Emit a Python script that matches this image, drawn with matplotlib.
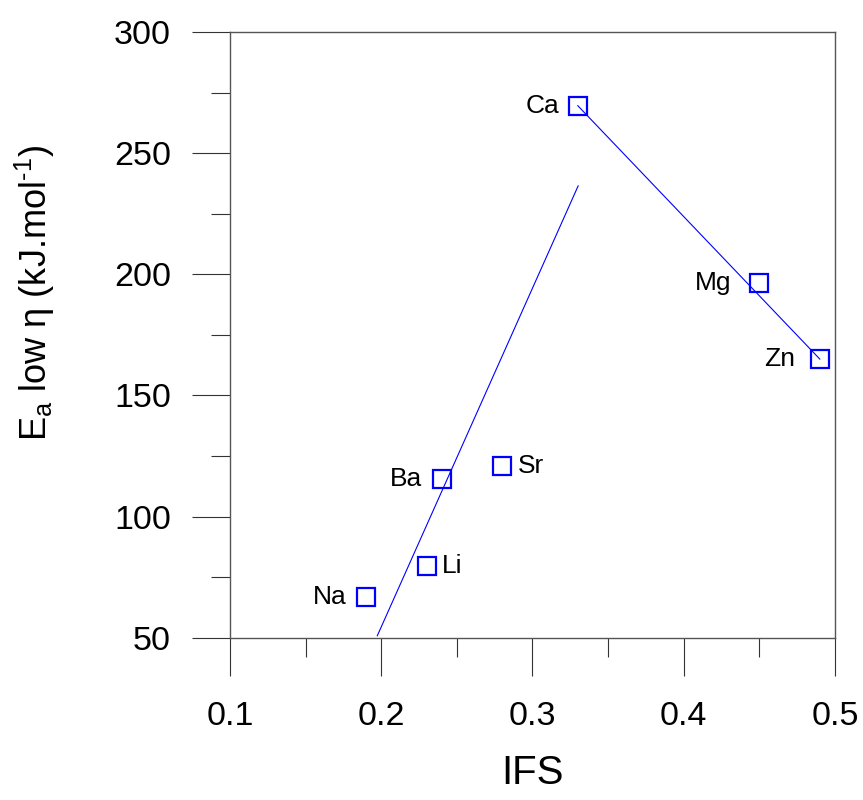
import numpy as np
import matplotlib
matplotlib.use("Agg")
import matplotlib.pyplot as plt
from matplotlib.ticker import MultipleLocator

plt.rcParams["font.family"] = ["Liberation Sans", "DejaVu Sans"]
plt.rcParams["mathtext.fontset"] = "custom"
plt.rcParams["mathtext.rm"] = "Liberation Sans"
plt.rcParams["mathtext.it"] = "Liberation Sans"

# --- data ---
elements = ["Na", "Li", "Ba", "Sr", "Ca", "Mg", "Zn"]
ifs      = [0.19, 0.23, 0.24, 0.28, 0.33, 0.45, 0.49]
ea_low   = [66.9, 79.6, 115.5, 120.9, 269.6, 196.3, 165.0]

# linear trend through the alkali / alkaline-earth group
fit1_x = [0.1974, 0.3302]
fit1_y = [50.8, 236.5]
# line from Ca down to Zn
fit2_x = [0.33, 0.49]
fit2_y = [269.6, 165.0]

x_ticks = [0.1, 0.2, 0.3, 0.4, 0.5]
x_tick_labels = ["0.1", "0.2", "0.3", "0.4", "0.5"]

# label offsets (points) and alignment per element
label_offset = {
    "Na": (-14, "right"), "Li": (11, "left"), "Ba": (-14, "right"),
    "Sr": (11, "left"), "Ca": (-13, "right"), "Mg": (-20, "right"),
    "Zn": (-18, "right"),
}

blue = "#0000ff"
spine_col = "#555555"

fig = plt.figure(figsize=(8.63, 8.0), dpi=100)
ax = fig.add_axes([0.2665, 0.2029, 0.701, 0.757])

ax.plot(fit1_x, fit1_y, color=blue, lw=0.8)
ax.plot(fit2_x, fit2_y, color=blue, lw=0.8)
ax.plot(ifs, ea_low, ls="none", marker="s", ms=12.3, mew=1.6,
        mec=blue, mfc="none")

for name, x, y in zip(elements, ifs, ea_low):
    dx, ha = label_offset[name]
    ax.annotate(name, (x, y), xytext=(dx, 0), textcoords="offset points",
                ha=ha, va="center", fontsize=19)

ax.set_xlim(0.1, 0.5)
ax.set_ylim(50, 300)
ax.set_xticks(x_ticks)
ax.set_xticklabels(x_tick_labels)
ax.xaxis.set_minor_locator(MultipleLocator(0.05))
ax.yaxis.set_major_locator(MultipleLocator(50))
ax.yaxis.set_minor_locator(MultipleLocator(25))

for s in ax.spines.values():
    s.set_color(spine_col)
    s.set_linewidth(1.0)

ax.tick_params(which="major", direction="out", length=27.4, width=0.8,
               color="#333333", labelsize=24.5)
ax.tick_params(axis="x", which="major", pad=18)
ax.tick_params(axis="y", which="major", pad=15)
ax.tick_params(which="minor", direction="out", length=13.7, width=0.8,
               color="#333333")
ax.tick_params(top=False, right=False, which="both")

ax.set_xlabel("IFS", fontsize=29, labelpad=16)
fig.text(35 / 863, 1 - 293 / 800, r"E$_{\rm a}$ low η (kJ.mol$^{\text{-1}}$)",
         fontsize=26, rotation=90, ha="center", va="center")

fig.savefig("out.png", dpi=100)
